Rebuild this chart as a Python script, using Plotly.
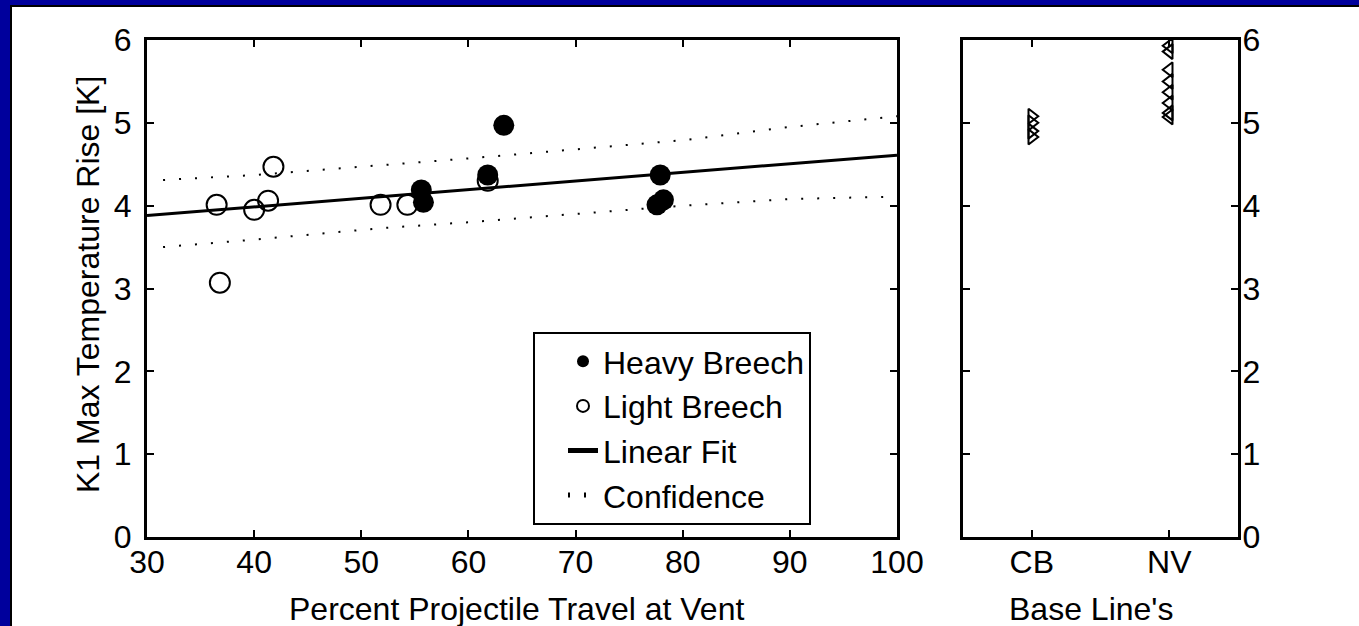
import plotly.graph_objects as go

# ---------------- data ----------------
heavy_x = [55.6, 55.8, 61.8, 63.3, 77.9, 77.6, 78.2]
heavy_y = [4.19, 4.04, 4.37, 4.97, 4.37, 4.01, 4.07]

light_x = [36.5, 36.8, 40.0, 41.3, 41.8, 51.8, 54.3, 61.8]
light_y = [4.01, 3.07, 3.95, 4.06, 4.47, 4.01, 4.01, 4.30]

fit_x = [30, 100]
fit_y = [3.88, 4.61]

conf_x = [31.5, 40, 52, 60, 70, 80, 90, 100]
conf_upper = [4.31, 4.37, 4.49, 4.57, 4.68, 4.79, 4.95, 5.08]
conf_lower = [3.50, 3.59, 3.73, 3.80, 3.90, 4.00, 4.08, 4.11]

base_categories = ["CB", "NV"]
cb_y = [5.08, 5.00, 4.90, 4.83]
nv_y = [5.93, 5.86, 5.64, 5.50, 5.37, 5.24, 5.12, 5.07]

x_ticks = [30, 40, 50, 60, 70, 80, 90, 100]
y_ticks = [0, 1, 2, 3, 4, 5, 6]

# ---------------- figure ----------------
W, H = 1359, 626
FONT = "Liberation Sans, Arial, sans-serif"
FS = 32

fig = go.Figure()

fig.add_trace(go.Scatter(x=conf_x, y=conf_upper, mode="lines", name="Confidence",
                         line=dict(color="black", width=2, dash="2px,14px"),
                         legendrank=4, xaxis="x", yaxis="y"))
fig.add_trace(go.Scatter(x=conf_x, y=conf_lower, mode="lines", showlegend=False,
                         line=dict(color="black", width=2, dash="2px,14px"),
                         xaxis="x", yaxis="y"))
fig.add_trace(go.Scatter(x=fit_x, y=fit_y, mode="lines", name="Linear Fit",
                         line=dict(color="black", width=3), legendrank=3,
                         xaxis="x", yaxis="y"))
fig.add_trace(go.Scatter(x=light_x, y=light_y, mode="markers", name="Light Breech",
                         marker=dict(symbol="circle-open", size=20, color="black",
                                     line=dict(color="black", width=2)),
                         legendrank=2, xaxis="x", yaxis="y"))
fig.add_trace(go.Scatter(x=heavy_x, y=heavy_y, mode="markers", name="Heavy Breech",
                         marker=dict(symbol="circle", size=21, color="black"),
                         legendrank=1, xaxis="x", yaxis="y"))

fig.add_trace(go.Scatter(x=[base_categories[0]] * len(cb_y), y=cb_y, mode="markers",
                         showlegend=False,
                         marker=dict(symbol="triangle-right-open", size=13, color="black",
                                     line=dict(color="black", width=2)),
                         xaxis="x2", yaxis="y2"))
fig.add_trace(go.Scatter(x=[base_categories[1]] * len(nv_y), y=nv_y, mode="markers",
                         showlegend=False,
                         marker=dict(symbol="triangle-left-open", size=13, color="black",
                                     line=dict(color="black", width=2)),
                         xaxis="x2", yaxis="y2"))

axis_common = dict(showline=True, linecolor="black", linewidth=3, mirror="ticks",
                   ticks="inside", ticklen=7, tickwidth=2, tickcolor="black",
                   showgrid=False, zeroline=False, automargin=False,
                   tickfont=dict(family=FONT, size=FS, color="black"))

ydom = [(H - 537) / H, (H - 40) / H]

fig.update_layout(
    template="none",
    width=W, height=H,
    margin=dict(l=0, r=0, t=0, b=0, pad=0, autoexpand=False),
    paper_bgcolor="white", plot_bgcolor="white",
    font=dict(family=FONT, size=FS, color="black"),
    xaxis=dict(domain=[147 / W, 897 / W], range=[30, 100], tickvals=x_ticks,
               anchor="y", ticklabelstandoff=-5, **axis_common),
    yaxis=dict(domain=ydom, range=[0, 6], tickvals=y_ticks, anchor="x",
               ticklabelstandoff=6, **axis_common),
    xaxis2=dict(domain=[963 / W, 1238 / W], range=[-0.5, 1.5], type="category",
                categoryorder="array", categoryarray=base_categories,
                anchor="y2", ticklabelstandoff=-5, **axis_common),
    yaxis2=dict(domain=ydom, range=[0, 6], tickvals=y_ticks, anchor="x2",
                side="right", ticklabelstandoff=-5, **axis_common),
    legend=dict(x=533 / W, y=(H - 332) / H, xanchor="left", yanchor="top",
                bgcolor="white", bordercolor="black", borderwidth=2,
                font=dict(family=FONT, size=FS, color="black"),
                indentation=28,
                itemsizing="constant", traceorder="normal"),
    showlegend=True,
    shapes=[
        dict(type="rect", xref="paper", yref="paper", x0=0, x1=10 / W, y0=0, y1=1,
             fillcolor="#00009c", line=dict(width=0), layer="above"),
        dict(type="rect", xref="paper", yref="paper", x0=0, x1=1, y0=(H - 5) / H, y1=1,
             fillcolor="#00009c", line=dict(width=0), layer="above"),
        dict(type="line", xref="paper", yref="paper", x0=11 / W, x1=11 / W, y0=0,
             y1=(H - 5) / H, line=dict(color="black", width=2), layer="above"),
        dict(type="line", xref="paper", yref="paper", x0=10 / W, x1=1, y0=(H - 6) / H,
             y1=(H - 6) / H, line=dict(color="black", width=2), layer="above"),
    ],
    annotations=[
        dict(text="K1 Max Temperature Rise [K]", xref="paper", yref="paper",
             x=88 / W, y=(H - 285) / H, textangle=-90, showarrow=False,
             xanchor="center", yanchor="middle", font=dict(family=FONT, size=FS)),
        dict(text="Percent Projectile Travel at Vent", xref="paper", yref="paper",
             x=516 / W, y=(H - 609) / H, showarrow=False,
             xanchor="center", yanchor="middle", font=dict(family=FONT, size=FS)),
        dict(text="Base Line's", xref="paper", yref="paper",
             x=1091 / W, y=(H - 609) / H, showarrow=False,
             xanchor="center", yanchor="middle", font=dict(family=FONT, size=FS)),
    ],
)

fig.write_html("out.html")
